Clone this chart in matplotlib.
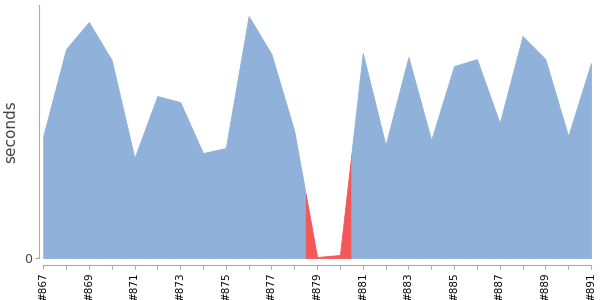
import matplotlib
matplotlib.use("Agg")
import matplotlib.pyplot as plt
import numpy as np

builds = list(range(867, 892))
durations = [122, 209, 236, 198, 100, 162, 156, 105, 110, 242, 204, 127, 1,
             3, 205, 113, 201, 118, 192, 199, 135, 222, 199, 122, 195]
failed = [879, 880]

blue = "#8fb1da"
red = "#f25858"

fig = plt.figure(figsize=(6, 3), dpi=100)
ax = fig.add_axes([0.072, 0.14, 0.913, 0.843])

x = np.array(builds, dtype=float)
y = np.array(durations, dtype=float)

# each build owns the band from half-way to the previous build to half-way to the next
for i, b in enumerate(builds):
    xs = [x[i]]
    ys = [y[i]]
    if i > 0:
        xs.insert(0, (x[i - 1] + x[i]) / 2)
        ys.insert(0, (y[i - 1] + y[i]) / 2)
    if i < len(builds) - 1:
        xs.append((x[i] + x[i + 1]) / 2)
        ys.append((y[i] + y[i + 1]) / 2)
    c = red if b in failed else blue
    ax.fill_between(xs, 0, ys, color=c, linewidth=0.6, edgecolor=c)

ax.set_xlim(builds[0], builds[-1])
ax.set_ylim(0, 253)

for s in ["top", "right"]:
    ax.spines[s].set_visible(False)
ax.spines["left"].set_position(("outward", 3))
ax.spines["bottom"].set_position(("outward", 5))
ax.spines["left"].set_color("#aaaaaa")
ax.spines["bottom"].set_color("#aaaaaa")

ax.set_xticks(builds)
ax.set_xticklabels(["#%d" % b if (b - builds[0]) % 2 == 0 else "" for b in builds],
                   rotation=90, fontsize=7.5)
ax.set_yticks([0])
ax.set_yticklabels(["0"], fontsize=9, color="#444444")
ax.tick_params(axis="both", color="#aaaaaa", length=3, pad=2)
ax.set_ylabel("seconds", fontsize=11, color="#444444")

fig.savefig("out.png", dpi=100)
